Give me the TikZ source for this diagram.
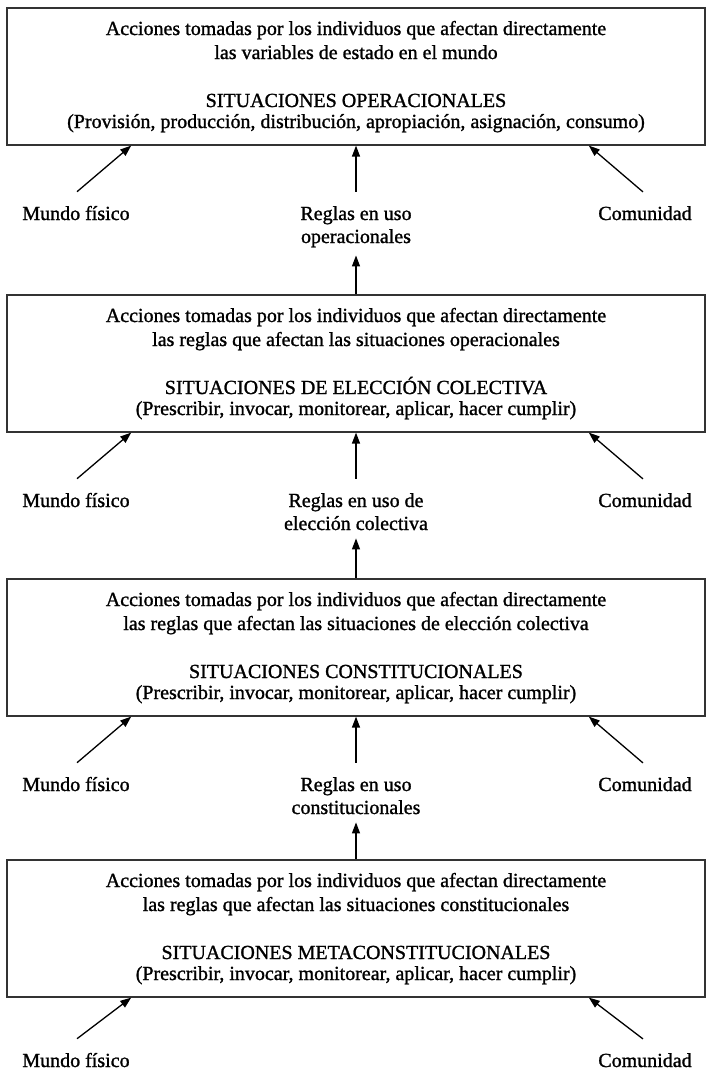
\documentclass[tikz,border=0pt]{standalone}
\usepackage{fontspec}
\setmainfont[FakeBold=1.2]{Liberation Serif}
\usetikzlibrary{arrows.meta}
\newcommand{\sitbox}[6]{%
  \node[box] (#1) at (356,#2) {};
  \node[txt] (#1a) at (356,#2+28) {#3};
  \node[txt] (#1b) at (356,#2+52) {#4};
  \node[txt] (#1c) at (356,#2+100) {#5};
  \node[txt] (#1d) at (356,#2+121) {#6};
}
\begin{document}
\begin{tikzpicture}[x=1pt,y=-1pt,
  box/.style={draw=black!80, line width=1.6pt, minimum width=698pt, minimum height=137pt, inner sep=0pt, anchor=north},
  txt/.style={anchor=base, inner sep=0pt, font=\fontsize{20}{24}\selectfont},
  arr/.style={-{Triangle[length=11pt,width=8pt]}, line width=1.3pt, black}]
\useasboundingbox (0,0) rectangle (706,1074);

\sitbox{b1}{7}{Acciones tomadas por los individuos que afectan directamente}{las variables de estado en el mundo}{SITUACIONES OPERACIONALES}{(Provisión, producción, distribución, apropiación, asignación, consumo)}
\sitbox{b2}{294}{Acciones tomadas por los individuos que afectan directamente}{las reglas que afectan las situaciones operacionales}{SITUACIONES DE ELECCIÓN COLECTIVA}{(Prescribir, invocar, monitorear, aplicar, hacer cumplir)}
\sitbox{b3}{578}{Acciones tomadas por los individuos que afectan directamente}{las reglas que afectan las situaciones de elección colectiva}{SITUACIONES CONSTITUCIONALES}{(Prescribir, invocar, monitorear, aplicar, hacer cumplir)}
\sitbox{b4}{859}{Acciones tomadas por los individuos que afectan directamente}{las reglas que afectan las situaciones constitucionales}{SITUACIONES METACONSTITUCIONALES}{(Prescribir, invocar, monitorear, aplicar, hacer cumplir)}

% row 1 labels (below box 1)
\node[txt] (m1) at (76,220) {Mundo físico};
\node[txt] (c1) at (645,220) {Comunidad};
\node[txt] (r1a) at (356,220) {Reglas en uso};
\node[txt] (r1b) at (356,243) {operacionales};
% row 2 labels
\node[txt] (m2) at (76,507) {Mundo físico};
\node[txt] (c2) at (645,507) {Comunidad};
\node[txt] (r2a) at (356,507) {Reglas en uso de};
\node[txt] (r2b) at (356,530) {elección colectiva};
% row 3 labels
\node[txt] (m3) at (76,791) {Mundo físico};
\node[txt] (c3) at (645,791) {Comunidad};
\node[txt] (r3a) at (356,791) {Reglas en uso};
\node[txt] (r3b) at (356,814) {constitucionales};
% row 4 labels
\node[txt] (m4) at (76,1067) {Mundo físico};
\node[txt] (c4) at (645,1067) {Comunidad};

\foreach \k in {1,2,3,4}{
  \draw[arr] ([xshift=1pt,yshift=14pt]m\k.north) -- ([xshift=125pt]b\k.south west);
  \draw[arr] ([xshift=-2pt,yshift=14pt]c\k.north) -- ([xshift=-117pt]b\k.south east);
}
\foreach \k/\n in {1/2,2/3,3/4}{
  \draw[arr] ([yshift=14pt]r\k a.north) -- (b\k.south);
  \draw[arr] (b\n.north) -- ([yshift=-8pt]r\k b.south);
}
\end{tikzpicture}
\end{document}
